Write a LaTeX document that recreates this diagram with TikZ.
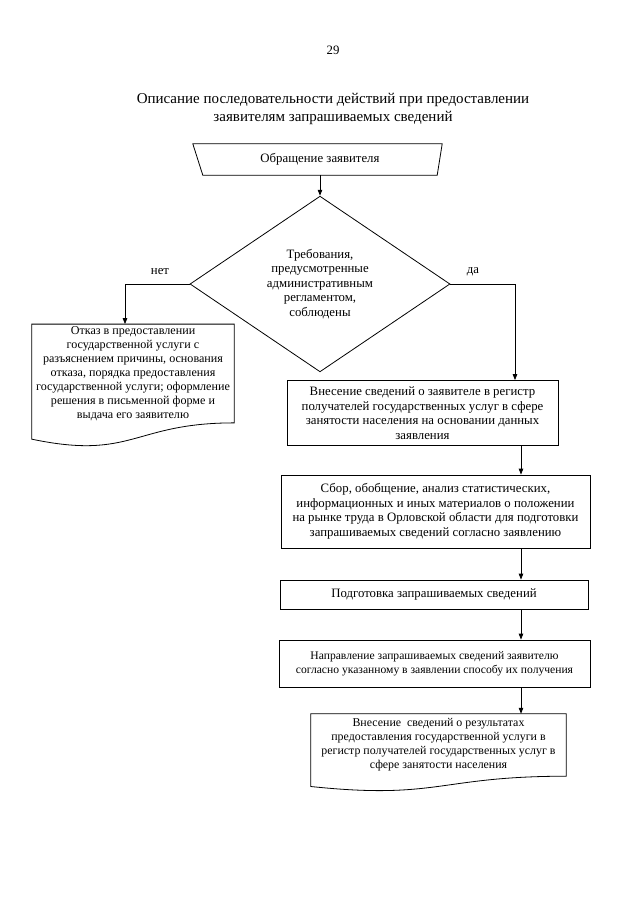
\documentclass[tikz,border=0pt]{standalone}
\usepackage{fontspec}
\setmainfont{Liberation Serif}
\usetikzlibrary{arrows.meta,positioning,shapes.geometric,calc}

\newcommand{\bodyfont}{\fontsize{12.8}{14.5}\selectfont}
\newcommand{\smallbody}{\fontsize{11.6}{14}\selectfont}
% wavy bottom of a document box
\newcommand{\docwave}[1]{%
  \draw[line width=0.8pt] (#1.south east)
    .. controls (#1.south) and ($(#1.north)!1.38!(#1.south)$)
    .. ($(#1.north west)!1.165!(#1.south west)$)
    -- (#1.north west) -- (#1.north east) -- cycle;}

\begin{document}
\begin{tikzpicture}[x=1pt, y=-1pt,
    box/.style={draw, line width=0.8pt, rectangle, align=center, font=\bodyfont, inner sep=2pt},
    docbox/.style={rectangle, align=center, font=\bodyfont, inner sep=2pt},
    cond/.style={draw, line width=0.8pt, diamond, align=center, inner sep=0pt, font=\bodyfont},
    lbl/.style={font=\bodyfont},
    arr/.style={line width=0.8pt, -{Triangle[length=6pt,width=4.5pt]}}
]
    \useasboundingbox (0,0) rectangle (639,905);

    \node[lbl] (pnum) at (333,50) {29};
    \node[align=center, font=\fontsize{15}{18}\selectfont] (title) at (333,109)
        {Описание последовательности действий при предоставлении\\заявителям запрашиваемых сведений};

    % start
    \node[docbox, minimum width=234, minimum height=31] (start) at (320,159.5) {Обращение заявителя};
    \draw[line width=0.8pt] ([xshift=-10]start.north west) -- ([xshift=5]start.north east)
        -- (start.south east) -- (start.south west) -- cycle;

    \node[cond, minimum width=260, minimum height=159] (cond) at (320,284)
        {Требования,\\предусмотренные\\административным\\регламентом,\\соблюдены};
    \node[lbl] (no) at (160,272) {нет};
    \node[lbl] (yes) at (473,272) {да};

    \node[docbox, font=\fontsize{12.1}{14}\selectfont, minimum width=202, minimum height=97] (refuse) at (133,373.5)
        {Отказ в предоставлении\\государственной услуги с\\разъяснением причины, основания\\отказа, порядка предоставления\\государственной услуги; оформление\\решения в письменной форме и\\выдача его заявителю};
    \docwave{refuse}

    \node[box, minimum width=271, minimum height=65] (reg) at (422.5,413)
        {Внесение сведений о заявителе в регистр\\получателей государственных услуг в сфере\\занятости населения на основании данных\\заявления};
    \node[box, minimum width=309, minimum height=73] (collect) at (435.5,511.5)
        {Сбор, обобщение, анализ статистических,\\информационных и иных материалов о положении\\на рынке труда в Орловской области для подготовки\\запрашиваемых сведений согласно заявлению};
    \node[box, minimum width=308, minimum height=29] (prep) at (434,594.5)
        {Подготовка запрашиваемых сведений};
    \node[box, font=\smallbody, minimum width=311, minimum height=47] (send) at (434.5,663.5)
        {Направление запрашиваемых сведений заявителю\\согласно указанному в заявлении способу их получения};
    \node[docbox, font=\fontsize{11.9}{14}\selectfont, minimum width=255, minimum height=62] (result) at (438.5,745)
        {Внесение\ \ сведений о результатах\\предоставления государственной услуги в\\регистр получателей государственных услуг в\\сфере занятости населения};
    \docwave{result}

    % connectors
    \coordinate (col) at (521,0);
    \draw[arr] (start.south) -- (cond.north);
    \draw[arr] (cond.west) -| ($(refuse.north)+(-8,0)$);
    \draw[arr] (cond.east) -| ($(reg.north)+(92.5,0)$);
    \draw[arr] (reg.south -| col) -- (collect.north -| col);
    \draw[arr] (collect.south -| col) -- (prep.north -| col);
    \draw[arr] (prep.south -| col) -- (send.north -| col);
    \draw[arr] (send.south -| col) -- (result.north -| col);
\end{tikzpicture}
\end{document}
